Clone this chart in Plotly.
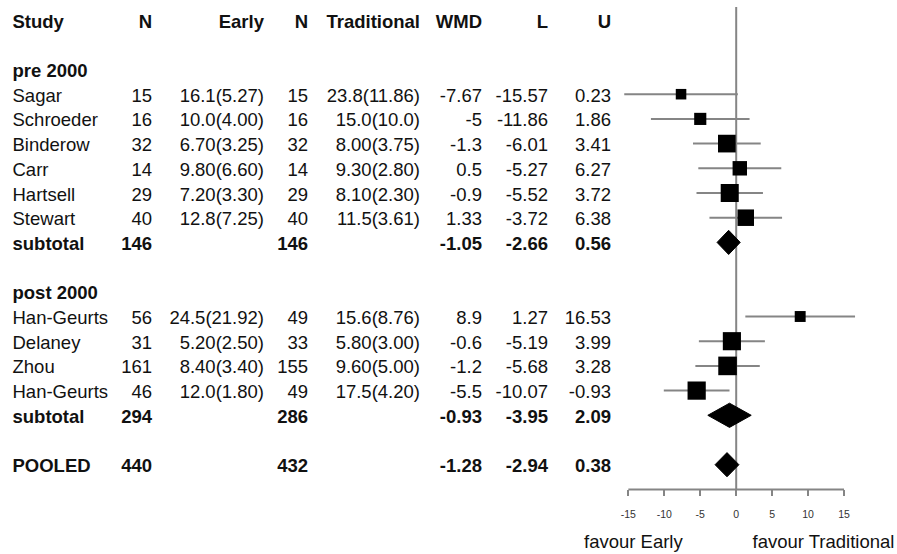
import plotly.graph_objects as go

# ---------------- data ----------------
headers = ["Study", "N", "Early", "N", "Traditional", "WMD", "L", "U"]
group_titles = ["pre 2000", "post 2000"]

pre_study = ["Sagar", "Schroeder", "Binderow", "Carr", "Hartsell", "Stewart"]
pre_n_early = [15, 16, 32, 14, 29, 40]
pre_early = ["16.1(5.27)", "10.0(4.00)", "6.70(3.25)", "9.80(6.60)", "7.20(3.30)", "12.8(7.25)"]
pre_n_trad = [15, 16, 32, 14, 29, 40]
pre_trad = ["23.8(11.86)", "15.0(10.0)", "8.00(3.75)", "9.30(2.80)", "8.10(2.30)", "11.5(3.61)"]
pre_wmd = [-7.67, -5, -1.3, 0.5, -0.9, 1.33]
pre_lower = [-15.57, -11.86, -6.01, -5.27, -5.52, -3.72]
pre_upper = [0.23, 1.86, 3.41, 6.27, 3.72, 6.38]

post_study = ["Han-Geurts", "Delaney", "Zhou", "Han-Geurts"]
post_n_early = [56, 31, 161, 46]
post_early = ["24.5(21.92)", "5.20(2.50)", "8.40(3.40)", "12.0(1.80)"]
post_n_trad = [49, 33, 155, 49]
post_trad = ["15.6(8.76)", "5.80(3.00)", "9.60(5.00)", "17.5(4.20)"]
post_wmd = [8.9, -0.6, -1.2, -5.5]
post_lower = [1.27, -5.19, -5.68, -10.07]
post_upper = [16.53, 3.99, 3.28, -0.93]

summary_label = ["subtotal", "subtotal", "POOLED"]
summary_n_early = [146, 294, 440]
summary_n_trad = [146, 286, 432]
summary_wmd = [-1.05, -0.93, -1.28]
summary_lower = [-2.66, -3.95, -2.94]
summary_upper = [0.56, 2.09, 0.38]

x_ticks = [-15, -10, -5, 0, 5, 10, 15]
side_labels = ["favour Early", "favour Traditional"]

# ---------------- layout constants ----------------
W, H = 897, 554
ROW_PX = 24.7            # pixel height of one table row
ROW0_PX = 94.2           # pixel centre of first study row
PX_PER_UNIT = 7.19       # forest scale
ZERO_PX = 736.2          # pixel position of WMD = 0
FONT = "Liberation Sans, Arial, Helvetica, sans-serif"
FS = 18.5
TXT_SHIFT = 0.12         # text sits slightly below the marks
GREY = "#858585"

col_x = [12.5, 152, 264, 308, 420, 482, 548, 611]
col_pos = ["middle right"] + ["middle left"] * 7


def fmt_ci(v):
    return f"{v:.2f}"


def fmt_wmd(v):
    return f"{v:g}"


# ---------------- assemble rows ----------------
rows = []  # (row, cells, bold, kind, est, lo, hi)
rows.append((-3, headers, True, None, None, None, None))
r = -1
groups = [
    (pre_study, pre_n_early, pre_early, pre_n_trad, pre_trad, pre_wmd, pre_lower, pre_upper),
    (post_study, post_n_early, post_early, post_n_trad, post_trad, post_wmd, post_lower, post_upper),
]
for g, (st, ne, ev, nt, tv, wm, lo, hi) in enumerate(groups):
    rows.append((r, [group_titles[g]] + [""] * 7, True, None, None, None, None))
    r += 1
    for i in range(len(st)):
        rows.append((r, [st[i], str(ne[i]), ev[i], str(nt[i]), tv[i],
                         fmt_wmd(wm[i]), fmt_ci(lo[i]), fmt_ci(hi[i])],
                     False, "study", wm[i], lo[i], hi[i]))
        r += 1
    rows.append((r, [summary_label[g], str(summary_n_early[g]), "", str(summary_n_trad[g]), "",
                     fmt_wmd(summary_wmd[g]), fmt_ci(summary_lower[g]), fmt_ci(summary_upper[g])],
                 True, "summary", summary_wmd[g], summary_lower[g], summary_upper[g]))
    r += 2
rows.append((r, [summary_label[2], str(summary_n_early[2]), "", str(summary_n_trad[2]), "",
                 fmt_wmd(summary_wmd[2]), fmt_ci(summary_lower[2]), fmt_ci(summary_upper[2])],
             True, "summary", summary_wmd[2], summary_lower[2], summary_upper[2]))

axis_row = 16.0

fig = go.Figure()

# confidence interval whiskers
cx, cy = [], []
for row, cells, bold, kind, est, lo, hi in rows:
    if kind == "study":
        cx += [lo, hi, None]
        cy += [row, row, None]
fig.add_trace(go.Scatter(x=cx, y=cy, mode="lines", line=dict(color=GREY, width=2),
                         hoverinfo="skip", showlegend=False, cliponaxis=False))

# study squares, side proportional to precision (1/SE)
sx, sy, ss = [], [], []
for row, cells, bold, kind, est, lo, hi in rows:
    if kind == "study":
        se = (hi - lo) / 3.92
        sx.append(est)
        sy.append(row)
        ss.append(42.5 / se)
fig.add_trace(go.Scatter(x=sx, y=sy, mode="markers",
                         marker=dict(symbol="square", size=ss, color="black", opacity=1,
                                     line=dict(width=0)),
                         showlegend=False, cliponaxis=False))

# summary diamonds
dx, dy = [], []
half = 0.49
for row, cells, bold, kind, est, lo, hi in rows:
    if kind == "summary":
        dx += [lo, est, hi, est, lo, None]
        dy += [row, row - half, row, row + half, row, None]
fig.add_trace(go.Scatter(x=dx, y=dy, mode="lines", fill="toself", fillcolor="black",
                         line=dict(color="black", width=1), showlegend=False, hoverinfo="skip"))

# table text columns
for c in range(len(col_x)):
    tx, ty, tt = [], [], []
    for row, cells, bold, kind, est, lo, hi in rows:
        if cells[c] == "":
            continue
        tx.append(col_x[c])
        ty.append(row + TXT_SHIFT)
        tt.append(f"<b>{cells[c]}</b>" if bold else cells[c])
    fig.add_trace(go.Scatter(x=tx, y=ty, text=tt, mode="text", textposition=col_pos[c],
                             textfont=dict(family=FONT, size=FS, color="#111111"),
                             xaxis="x2", yaxis="y", showlegend=False, hoverinfo="skip"))

# direction labels under the axis
fig.add_trace(go.Scatter(x=[584, 752.5], y=[18.05 + TXT_SHIFT] * 2, text=side_labels,
                         mode="text", textposition="middle right",
                         textfont=dict(family=FONT, size=FS, color="#111111"),
                         xaxis="x2", yaxis="y", showlegend=False, hoverinfo="skip"))

# no-effect line and axis line, kept beneath the marks
fig.add_shape(type="line", xref="x", yref="y", x0=0, x1=0, y0=-3.53, y1=axis_row,
              line=dict(color=GREY, width=2), layer="below")
fig.add_shape(type="line", xref="x", yref="y", x0=x_ticks[0], x1=x_ticks[-1],
              y0=axis_row, y1=axis_row, line=dict(color=GREY, width=2), layer="below")

y_top = -ROW0_PX / ROW_PX
y_bot = (H - ROW0_PX) / ROW_PX
x_left = -ZERO_PX / PX_PER_UNIT
x_right = (W - ZERO_PX) / PX_PER_UNIT
axis_pos = (H - (ROW0_PX + axis_row * ROW_PX)) / H

fig.update_layout(
    width=W, height=H,
    margin=dict(l=0, r=0, t=0, b=0),
    paper_bgcolor="white", plot_bgcolor="white",
    xaxis=dict(range=[x_left, x_right], domain=[0, 1], anchor="free", position=axis_pos,
               tickvals=x_ticks, ticktext=[str(v) for v in x_ticks],
               ticks="outside", ticklen=6, tickwidth=1.5, tickcolor=GREY,
               showline=False, showgrid=False, zeroline=False,
               tickfont=dict(family=FONT, size=10.5, color="#333333"),
               ticklabelstandoff=9, fixedrange=True),
    xaxis2=dict(range=[0, W], overlaying="x", visible=False, fixedrange=True),
    yaxis=dict(range=[y_bot, y_top], domain=[0, 1], visible=False, fixedrange=True),
    showlegend=False,
)

fig.write_html("out.html")
